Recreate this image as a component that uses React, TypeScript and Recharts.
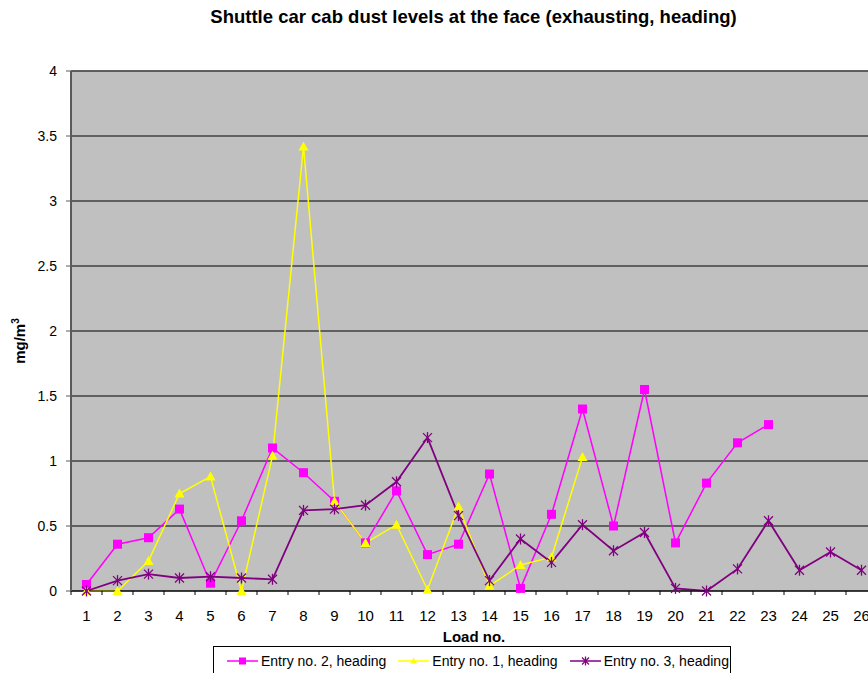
import React from 'react';
import { LineChart, Line, XAxis, YAxis, CartesianGrid, Legend, ReferenceLine } from 'recharts';

// Load numbers on the category axis
const loads = ['1', '2', '3', '4', '5', '6', '7', '8', '9', '10', '11', '12', '13', '14', '15', '16', '17', '18', '19', '20', '21', '22', '23', '24', '25', '26'];

// mg/m3 readings (null = no reading)
const entry2 = [0.05, 0.36, 0.41, 0.63, 0.06, 0.54, 1.1, 0.91, 0.69, 0.37, 0.77, 0.28, 0.36, 0.9, 0.02, 0.59, 1.4, 0.5, 1.55, 0.37, 0.83, 1.14, 1.28, null, null, null];
const entry1 = [0, 0, 0.23, 0.75, 0.88, 0.0, 1.04, 3.42, 0.69, 0.37, 0.51, 0.01, 0.65, 0.04, 0.2, 0.26, 1.03, null, null, null, null, null, null, null, null, null];
const entry3 = [0.0, 0.08, 0.13, 0.1, 0.11, 0.1, 0.09, 0.62, 0.63, 0.66, 0.84, 1.18, 0.58, 0.08, 0.4, 0.22, 0.51, 0.31, 0.45, 0.02, 0.0, 0.17, 0.54, 0.16, 0.3, 0.16];

const yTicks = [0, 0.5, 1, 1.5, 2, 2.5, 3, 3.5, 4];

const data = loads.map((load, i) => ({
    load,
    e2: entry2[i],
    e1: entry1[i],
    e3: entry3[i],
}));

const CHART_W = 880;
const CHART_H = 680;
const Y_W = 71;
const M_RIGHT = 3;
const BAND = (CHART_W - Y_W - M_RIGHT) / loads.length;

const MAGENTA = '#FF00FF';
const YELLOW = '#FFFF00';
const PURPLE = '#800080';
const AXIS = '#5a5a5a';
const FONT = '"Liberation Sans", Arial, sans-serif';

const Square = ({ cx, cy, size = 9 }: any) => (
    <rect x={cx - size / 2} y={cy - size / 2} width={size} height={size} fill={MAGENTA} />
);

const Triangle = ({ cx, cy, size = 10 }: any) => (
    <polygon
        points={`${cx},${cy - size / 2} ${cx - size / 2},${cy + size / 2 - 1} ${cx + size / 2},${cy + size / 2 - 1}`}
        fill={YELLOW}
    />
);

const Star = ({ cx, cy, size = 9 }: any) => {
    const h = size / 2;
    return (
        <g stroke={PURPLE} strokeWidth={1.3}>
            <line x1={cx - h} y1={cy - h} x2={cx + h} y2={cy + h} />
            <line x1={cx - h} y1={cy + h} x2={cx + h} y2={cy - h} />
            <line x1={cx} y1={cy - h - 1} x2={cx} y2={cy + h + 1} />
        </g>
    );
};

const makeDot = (Shape: any) => (props: any) => {
    const { cx, cy, index, value } = props;
    if (value == null || cy == null || isNaN(cy)) return <g key={`d-${index}`} />;
    return <Shape key={`d-${index}`} cx={cx} cy={cy} />;
};

// tick marks sit between categories, labels at the category centre
const XTick = (props: any) => {
    const { x, y, payload, index } = props;
    const last = index === loads.length - 1;
    return (
        <g>
            <line x1={x - BAND / 2} y1={y} x2={x - BAND / 2} y2={y + 4} stroke="#000" />
            {last && <line x1={x + BAND / 2} y1={y} x2={x + BAND / 2} y2={y + 4} stroke="#000" />}
            <text x={x} y={y + 30} textAnchor="middle" fontSize={15} fontFamily={FONT} fill="#000">
                {payload.value}
            </text>
        </g>
    );
};

const legendItems = [
    { name: 'Entry no. 2, heading', color: MAGENTA, Shape: Square },
    { name: 'Entry no. 1, heading', color: YELLOW, Shape: Triangle },
    { name: 'Entry no. 3, heading', color: PURPLE, Shape: Star },
];

const LegendBox = () => (
    <div
        style={{
            boxSizing: 'border-box',
            width: 518,
            height: 34,
            border: '1px solid #000',
            background: '#fff',
            display: 'flex',
            alignItems: 'flex-start',
            paddingTop: 6,
            paddingLeft: 13,
            fontFamily: FONT,
            fontSize: 14,
            lineHeight: '16px',
            color: '#000',
        }}
    >
        {legendItems.map(item => (
            <div key={item.name} style={{ display: 'flex', alignItems: 'center', marginRight: 12, height: 16 }}>
                <svg width={31} height={14}>
                    <line x1={0} y1={7} x2={31} y2={7} stroke={item.color} strokeWidth={1.5} />
                    <item.Shape cx={15.5} cy={7} size={7} />
                </svg>
                <span style={{ marginLeft: 3, whiteSpace: 'nowrap' }}>{item.name}</span>
            </div>
        ))}
    </div>
);

const YLabel = () => (
    <text
        x={25}
        y={341}
        transform="rotate(-90 25 341)"
        textAnchor="middle"
        fontFamily={FONT}
        fontSize={15}
        fontWeight="bold"
        fill="#000"
    >
        mg/m<tspan dy={-6} fontSize={10}>3</tspan>
    </text>
);

const App: React.FC = () => {
    return (
        <div style={{ position: 'fixed', top: 0, left: 0, width: 868, height: 673, overflow: 'hidden', background: '#fff' }}>
            <div
                style={{
                    position: 'absolute',
                    top: 6,
                    left: 0,
                    width: 947,
                    textAlign: 'center',
                    fontFamily: FONT,
                    fontWeight: 'bold',
                    fontSize: 18.5,
                    color: '#000',
                    whiteSpace: 'nowrap',
                }}
            >
                Shuttle car cab dust levels at the face (exhausting, heading)
            </div>
            <LineChart width={CHART_W} height={CHART_H} data={data} margin={{ top: 71, right: M_RIGHT, left: 0, bottom: 0 }}>
                <CartesianGrid vertical={false} stroke="#000" fill="#C0C0C0" fillOpacity={1} />
                <ReferenceLine y={4} stroke={AXIS} strokeWidth={1.5} />
                <XAxis
                    dataKey="load"
                    interval={0}
                    height={55}
                    padding={{ left: BAND / 2, right: BAND / 2 }}
                    tickSize={0}
                    tickMargin={0}
                    tickLine={false}
                    tick={<XTick />}
                    axisLine={{ stroke: '#000' }}
                    label={{ value: 'Load no.', position: 'insideBottom', offset: 4, fontFamily: FONT, fontSize: 15, fontWeight: 'bold', fill: '#000' }}
                />
                <YAxis
                    width={Y_W}
                    domain={[0, 4]}
                    ticks={yTicks}
                    interval={0}
                    tickSize={5}
                    tickMargin={9}
                    tickLine={{ stroke: AXIS }}
                    axisLine={{ stroke: AXIS, strokeWidth: 2 }}
                    tick={{ fontSize: 14, fontFamily: FONT, fill: '#000' }}
                    label={{ content: <YLabel /> }}
                />
                <Legend
                    verticalAlign="bottom"
                    wrapperStyle={{ left: 213, width: 518 }}
                    content={<LegendBox />}
                />
                <Line dataKey="e2" name="Entry no. 2, heading" stroke={MAGENTA} strokeWidth={1.5} dot={makeDot(Square)} activeDot={false} isAnimationActive={false} />
                <Line dataKey="e1" name="Entry no. 1, heading" stroke={YELLOW} strokeWidth={1.5} dot={makeDot(Triangle)} activeDot={false} isAnimationActive={false} />
                <Line dataKey="e3" name="Entry no. 3, heading" stroke={PURPLE} strokeWidth={1.8} dot={makeDot(Star)} activeDot={false} isAnimationActive={false} />
            </LineChart>
        </div>
    );
};

export default App;
